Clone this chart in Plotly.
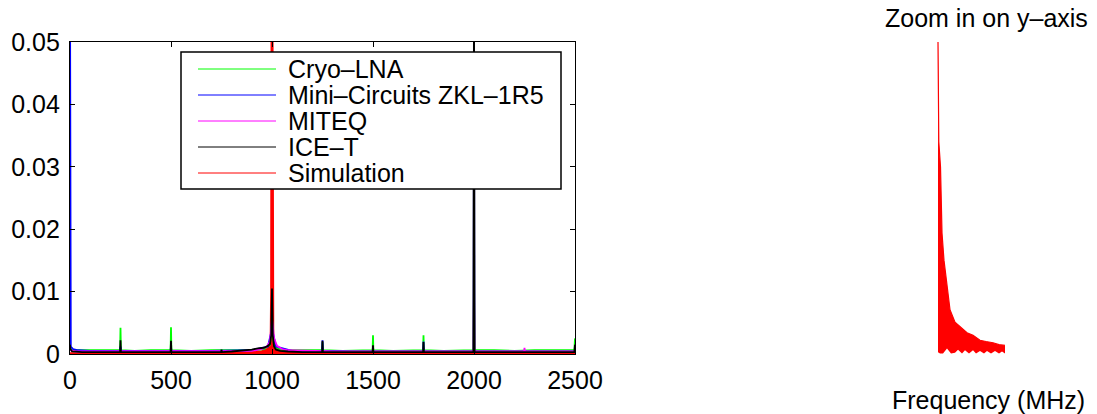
import plotly.graph_objects as go

W, H = 1097, 414

# ---------------- data ----------------
series_names = ["Cryo–LNA", "Mini–Circuits ZKL–1R5", "MITEQ", "ICE–T", "Simulation"]
series_colors = ["#00ff00", "#0000ff", "#ff00ff", "#000000", "#ff0000"]

cryo_f = [0, 3, 20, 80, 150, 200, 248, 250, 252, 320, 400, 498, 500, 502, 600, 700, 800, 900,
          960, 990, 1000, 1010, 1040, 1100, 1200, 1248, 1250, 1252, 1350, 1420, 1498, 1500, 1502,
          1600, 1680, 1748, 1750, 1752, 1850, 1950, 1998, 2000, 2002, 2100, 2200, 2300, 2400,
          2480, 2497, 2500]
cryo_v = [0.0012, 0.0008, 0.0006, 0.0006, 0.0005, 0.0006, 0.0006, 0.0042, 0.0006, 0.0005, 0.0006,
          0.0006, 0.0043, 0.0006, 0.0005, 0.0006, 0.0006, 0.0006, 0.0008, 0.0015, 0.0050, 0.0012,
          0.0007, 0.0006, 0.0006, 0.0006, 0.0019, 0.0006, 0.0005, 0.0006, 0.0006, 0.0030, 0.0006,
          0.0005, 0.0006, 0.0006, 0.0030, 0.0006, 0.0005, 0.0006, 0.0006, 0.0110, 0.0006, 0.0006,
          0.0005, 0.0006, 0.0006, 0.0005, 0.0006, 0.0025]

mini_f = [0, 1, 4, 15, 40, 100, 248, 250, 252, 400, 498, 500, 502, 700, 900, 980, 1000, 1020,
          1100, 1248, 1250, 1252, 1400, 1600, 1748, 1750, 1752, 1900, 1998, 2000, 2002, 2200, 2500]
mini_v = [0.0600, 0.0022, 0.0012, 0.0008, 0.0006, 0.0005, 0.0005, 0.0012, 0.0005, 0.0005, 0.0005,
          0.0012, 0.0005, 0.0005, 0.0006, 0.0012, 0.0040, 0.0012, 0.0005, 0.0005, 0.0022, 0.0005,
          0.0004, 0.0004, 0.0004, 0.0020, 0.0004, 0.0004, 0.0004, 0.0500, 0.0004, 0.0004, 0.0004]

miteq_f = [0, 3, 30, 200, 400, 600, 800, 900, 950, 975, 990, 996, 1000, 1004, 1010, 1025, 1050,
           1080, 1150, 1300, 1500, 1700, 1900, 1998, 2000, 2002, 2100, 2248, 2250, 2252, 2400, 2500]
miteq_v = [0.0010, 0.0006, 0.0004, 0.0004, 0.0004, 0.0004, 0.0004, 0.0005, 0.0008, 0.0012, 0.0020,
           0.0045, 0.0055, 0.0045, 0.0025, 0.0013, 0.0008, 0.0006, 0.0005, 0.0004, 0.0004, 0.0004,
           0.0004, 0.0004, 0.0115, 0.0004, 0.0004, 0.0004, 0.0010, 0.0004, 0.0004, 0.0004]

ice_f = [0, 2, 10, 60, 150, 248, 250, 252, 350, 498, 500, 502, 620, 748, 750, 752, 800, 850, 900,
         930, 960, 980, 990, 996, 1000, 1004, 1010, 1020, 1040, 1080, 1150, 1248, 1250, 1252, 1380,
         1498, 1500, 1502, 1620, 1748, 1750, 1752, 1880, 1997, 2000, 2003, 2120, 2250, 2380, 2497,
         2500]
ice_v = [0.0015, 0.0008, 0.0004, 0.0003, 0.0003, 0.0003, 0.0022, 0.0003, 0.0003, 0.0003, 0.0021,
         0.0003, 0.0003, 0.0003, 0.0007, 0.0003, 0.0004, 0.0005, 0.0007, 0.0009, 0.0010, 0.0013,
         0.0016, 0.0030, 0.0105, 0.0030, 0.0012, 0.0007, 0.0005, 0.0004, 0.0003, 0.0003, 0.0021,
         0.0003, 0.0003, 0.0003, 0.0014, 0.0003, 0.0003, 0.0003, 0.0019, 0.0003, 0.0003, 0.0003,
         0.0600, 0.0003, 0.0003, 0.0003, 0.0003, 0.0003, 0.0015]

sim_f = [0, 500, 800, 850, 900, 950, 980, 990, 995, 997, 1000, 1003, 1005, 1010, 1020, 1050,
         1100, 1150, 1200, 1265, 1300, 2000, 2500]
sim_v = [0.0001, 0.0001, 0.0003, 0.0003, 0.0003, 0.0004, 0.0008, 0.0015, 0.0030, 0.0100, 0.0700,
         0.0100, 0.0030, 0.0015, 0.0008, 0.0005, 0.0004, 0.0004, 0.0003, 0.0003, 0.0001, 0.0001,
         0.0001]

# zoomed-in simulation (right panel): upper and lower envelope
zoom_hi_f = [1001, 1001.8, 1003.5, 1005, 1007, 1010, 1013, 1018, 1024, 1030, 1036, 1043, 1049,
             1056, 1062, 1068]
zoom_hi = [0.0500, 0.0340, 0.0300, 0.0194, 0.0150, 0.0107, 0.0071, 0.0051, 0.0042, 0.0034,
           0.0030, 0.0022, 0.0020, 0.0018, 0.0015, 0.0014]
zoom_lo_f = [1001, 1003, 1006, 1010, 1014, 1018, 1021, 1025, 1028, 1032, 1036, 1039, 1043, 1047,
             1050, 1054, 1058, 1062, 1065, 1068]
zoom_lo = [0.0003, 0.0001, 0.0001, 0.0009, 0.0001, 0.0002, 0.0007, 0.0001, 0.0006, 0.0001,
           0.0006, 0.0001, 0.0005, 0.0001, 0.0005, 0.0001, 0.0005, 0.0001, 0.0004, 0.0001]

x_ticks = [0, 500, 1000, 1500, 2000, 2500]
y_ticks = [0, 0.01, 0.02, 0.03, 0.04, 0.05]
y_ticktext = ["0", "0.01", "0.02", "0.03", "0.04", "0.05"]

title_right = "Zoom in on y–axis"
xlabel_right = "Frequency (MHz)"

FONT = "Liberation Sans, Arial, sans-serif"
FS = 25


def px(x):
    return x / W


def py(y):
    return 1 - y / H


fig = go.Figure()

# simulation drawn first (filled, dense oscillation)
fig.add_trace(go.Scatter(x=sim_f, y=sim_v, mode="lines", name=series_names[4],
                         line=dict(color=series_colors[4], width=2.5),
                         fill="tozeroy", fillcolor=series_colors[4], showlegend=False))
for f, v, nm, col in [(cryo_f, cryo_v, series_names[0], series_colors[0]),
                      (mini_f, mini_v, series_names[1], series_colors[1]),
                      (miteq_f, miteq_v, series_names[2], series_colors[2]),
                      (ice_f, ice_v, series_names[3], series_colors[3])]:
    fig.add_trace(go.Scatter(x=f, y=v, mode="lines", name=nm,
                             line=dict(color=col, width=1.8), showlegend=False))

# right panel
fig.add_trace(go.Scatter(x=zoom_lo_f, y=zoom_lo, mode="lines", line=dict(width=0, color="red"),
                         xaxis="x2", yaxis="y2", showlegend=False, hoverinfo="skip"))
fig.add_trace(go.Scatter(x=zoom_hi_f, y=zoom_hi, mode="lines", line=dict(width=1.2, color="red"),
                         fill="tonexty", fillcolor="red", name="Simulation (zoom)",
                         xaxis="x2", yaxis="y2", showlegend=False))

axis_common = dict(showline=True, linecolor="black", linewidth=1.3, mirror="ticks",
                   ticks="inside", ticklen=5, tickcolor="black", showgrid=False, zeroline=False,
                   automargin=False,
                   tickfont=dict(family=FONT, size=FS, color="black"))

fig.update_layout(
    width=W, height=H, margin=dict(l=0, r=0, t=0, b=0, pad=0, autoexpand=False),
    paper_bgcolor="white", plot_bgcolor="white", showlegend=False,
    xaxis=dict(domain=[px(70), px(575)], range=[0, 2500], tickvals=x_ticks,
               ticklabelstandoff=4, **axis_common),
    yaxis=dict(domain=[py(354), py(42)], range=[0, 0.05], tickvals=y_ticks,
               ticktext=y_ticktext, ticklabelstandoff=4, **axis_common),
    xaxis2=dict(domain=[px(937), px(1006)], range=[1000, 1069], visible=False, anchor="y2",
                automargin=False),
    yaxis2=dict(domain=[py(354), py(42)], range=[0, 0.05], visible=False, anchor="x2",
                automargin=False),
)

# custom MATLAB-style legend box
fig.add_shape(type="rect", xref="paper", yref="paper", x0=px(181), x1=px(561), y0=py(189),
              y1=py(52), line=dict(color="black", width=1.5), fillcolor="white", layer="above")
rows = [69, 95, 121, 147, 173]
for nm, col, r in zip(series_names, series_colors, rows):
    fig.add_shape(type="line", xref="paper", yref="paper", x0=px(198), x1=px(276),
                  y0=py(r), y1=py(r), line=dict(color=col, width=1), layer="above")
    fig.add_annotation(text=nm, xref="paper", yref="paper", x=px(286), y=py(r),
                       xanchor="left", yanchor="middle", showarrow=False,
                       font=dict(family=FONT, size=FS, color="black"))

fig.add_annotation(text=title_right, xref="paper", yref="paper", x=px(986), y=py(18),
                   xanchor="center", yanchor="middle", showarrow=False,
                   font=dict(family=FONT, size=FS, color="black"))
fig.add_annotation(text=xlabel_right, xref="paper", yref="paper", x=px(988), y=py(400),
                   xanchor="center", yanchor="middle", showarrow=False,
                   font=dict(family=FONT, size=FS, color="black"))

fig.write_html("out.html")
